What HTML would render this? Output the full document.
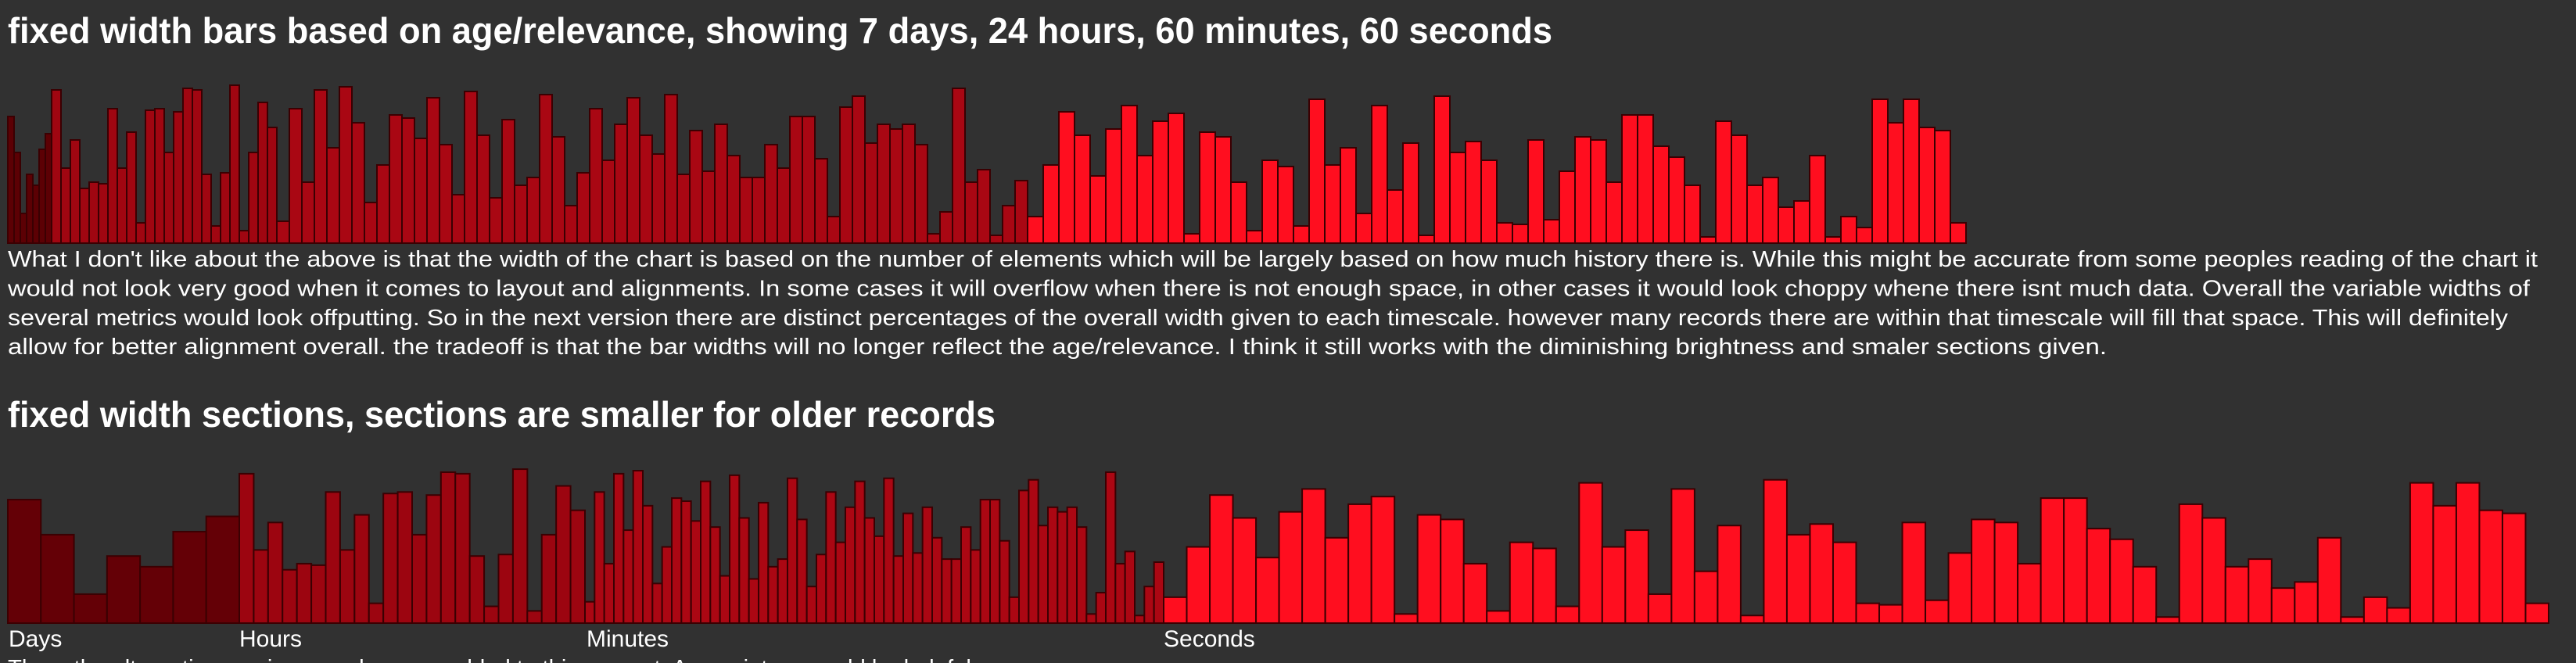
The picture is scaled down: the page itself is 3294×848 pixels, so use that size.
<!DOCTYPE html>
<html><head><meta charset="utf-8">
<style>
html,body{margin:0;padding:0;background:#313131;}
svg{display:block;}
text{font-family:"Liberation Sans",sans-serif;fill:#ffffff;}
</style></head>
<body>
<svg id="root" width="3294" height="848" viewBox="0 0 3294 848">
<rect width="3294" height="848" fill="#313131"/>
<text x="10" y="55" font-size="46" font-weight="bold" textLength="1975" lengthAdjust="spacingAndGlyphs">fixed width bars based on age/relevance, showing 7 days, 24 hours, 60 minutes, 60 seconds</text>
<g id="chart1"></g>
<g>
<text x="10" y="341" font-size="29" textLength="3235" lengthAdjust="spacingAndGlyphs">What I don't like about the above is that the width of the chart is based on the number of elements which will be largely based on how much history there is. While this might be accurate from some peoples reading of the chart it</text>
<text x="10" y="378.5" font-size="29" textLength="3225" lengthAdjust="spacingAndGlyphs">would not look very good when it comes to layout and alignments. In some cases it will overflow when there is not enough space, in other cases it would look choppy whene there isnt much data. Overall the variable widths of</text>
<text x="10" y="416" font-size="29" textLength="3197" lengthAdjust="spacingAndGlyphs">several metrics would look offputting. So in the next version there are distinct percentages of the overall width given to each timescale. however many records there are within that timescale will fill that space. This will definitely</text>
<text x="10" y="453" font-size="29" textLength="2684" lengthAdjust="spacingAndGlyphs">allow for better alignment overall. the tradeoff is that the bar widths will no longer reflect the age/relevance. I think it still works with the diminishing brightness and smaler sections given.</text>
</g>
<text x="10" y="546" font-size="46" font-weight="bold" textLength="1263" lengthAdjust="spacingAndGlyphs">fixed width sections, sections are smaller for older records</text>
<g id="chart2"></g>
<text x="11" y="827" font-size="30">Days</text>
<text x="306" y="827" font-size="30">Hours</text>
<text x="750" y="827" font-size="30">Minutes</text>
<text x="1488" y="827" font-size="30">Seconds</text>
<text x="10" y="864" font-size="29" textLength="1240" lengthAdjust="spacingAndGlyphs">There the alternative versions can be seen added to this request. Any pointers would be helpful.</text>
</svg>
<script>
const daysValues = [81,58,19,44,37,60,70];
const hoursValues = [98,48,66,35,39,38,86,48,71,13,85,86,58,84,99,98,44,11,45,101,8,58,90,74];
const minutesValues = [14,86,39,98,61,100,77,26,50,82,80,67,93,63,31,97,69,29,79,37,42,95,68,24,45,86,53,76,93,69,57,
  95,44,72,46,76,56,42,42,63,48,81,81,54,17,87,94,64,76,73,76,63,6,20,99,39,47,5,24,40];
const secondsValues = [17,50,84,69,43,73,88,56,78,83,6,71,68,39,8,53,49,11,92,
  50,61,19,88,34,64,5,94,58,65,53,13,12,66,15,46,68,66,39,82,82,62,55,37,4,78,69,37,42,23,27,56,4,17,10,92,77,92,74,72,13];
const sectionNames = ["days","hours","minutes","seconds"];

const NS = "http://www.w3.org/2000/svg";
const series = [daysValues, hoursValues, minutesValues, secondsValues];
const fills1 = ["#5c0004","#a00611","#a90713","#ff0e1f"];
const fills2 = ["#640006","#9c0510","#ab0713","#ff0e1f"];

function yScale1(v){ return v * 2.0; }
function yScale2(v){ return v * 1.95; }

function bar(g, x, w, h, base, fill, name){
  const r = document.createElementNS(NS, "rect");
  r.setAttribute("x", x);
  r.setAttribute("y", base - h);
  r.setAttribute("width", w);
  r.setAttribute("height", h);
  r.setAttribute("fill", fill);
  r.setAttribute("stroke", "#3a0002");
  r.setAttribute("stroke-width", "2");
  
  
  g.appendChild(r);
}

// chart 1: bar width depends on age
const g1 = document.getElementById("chart1");
const widths1 = [8,12,16,20];
const base1 = 311;
let x1 = 10;
series.forEach((arr, s) => {
  arr.forEach((v, i) => {
    bar(g1, x1, widths1[s], yScale1(v), base1, fills1[s], "bar-" + sectionNames[s] + "-" + (i+1));
    x1 += widths1[s];
  });
});

// chart 2: fixed section widths
const g2 = document.getElementById("chart2");
const sectionStart = [10, 306, 748, 1488];
const sectionEnd = [306, 748, 1488, 3259];
const base2 = 797;
series.forEach((arr, s) => {
  const w = (sectionEnd[s] - sectionStart[s]) / arr.length;
  arr.forEach((v, i) => {
    bar(g2, sectionStart[s] + i * w, w, yScale2(v), base2, fills2[s], "section-bar-" + sectionNames[s] + "-" + (i+1));
  });
});
</script>
</body></html>
